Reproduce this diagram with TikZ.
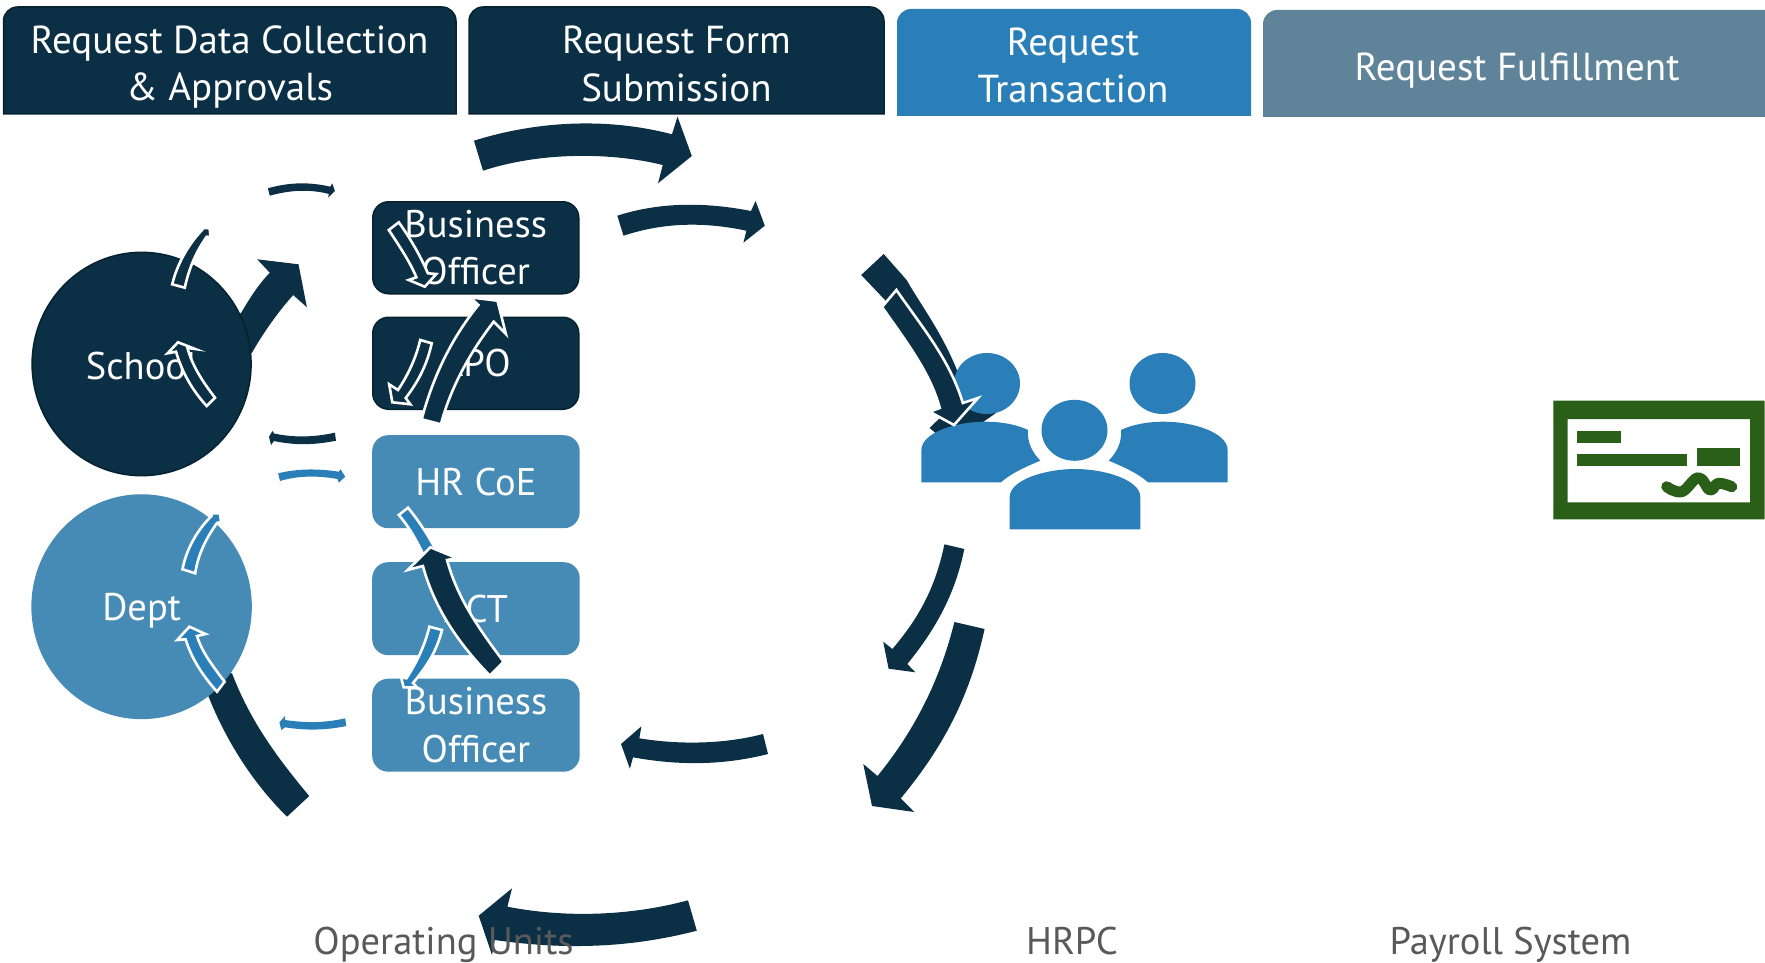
\documentclass[tikz,border=0pt]{standalone}
\usepackage{fontspec}
\setmainfont{PT Sans}
\definecolor{navy}{HTML}{0B2F45}
\definecolor{navyedge}{HTML}{06222F}
\definecolor{mainblue}{HTML}{2B7FB8}
\definecolor{softblue}{HTML}{458BB5}
\definecolor{slate}{HTML}{5F8398}
\definecolor{labelgray}{HTML}{595959}
\definecolor{checkgreen}{HTML}{2A5F17}
\tikzset{
  headtext/.style={text=white,align=center,font=\fontsize{39}{47.3}\selectfont,inner sep=0pt},
  boxtext/.style={text=white,align=center,font=\fontsize{38.5}{47.3}\selectfont,inner sep=0pt},
  sidebox/.style={rounded corners=16,minimum width=206,minimum height=92,inner sep=0pt,anchor=north west,align=center,text=white,font=\fontsize{38.5}{47.3}\selectfont},
  darkbox/.style={sidebox,fill=navy,draw=navyedge,line width=1.5},
  lightbox/.style={sidebox,fill=softblue,minimum width=207.5,minimum height=93},
  darkarrow/.style={fill=navy},
  bluearrow/.style={fill=mainblue},
  darkout/.style={fill=navy,draw=white,line width=2.6,line join=miter},
  blueout/.style={fill=mainblue,draw=white,line width=2.6,line join=miter},
  bottomlabel/.style={text=labelgray,font=\fontsize{38.5}{45}\selectfont,inner sep=0pt},
  person/.style={fill=mainblue},
  checkink/.style={fill=checkgreen},
}
\begin{document}
\begin{tikzpicture}[x=1pt,y=-1pt]
\useasboundingbox (0,0) rectangle (1765,963);
% headers
\fill[navy,draw=navyedge,line width=1.5] (3.5,114) [rounded corners=14] -- (3.5,7) -- (456,7) [sharp corners] -- (456,114) -- cycle;
\fill[navy,draw=navyedge,line width=1.5] (469,114) [rounded corners=14] -- (469,7) -- (884,7) [sharp corners] -- (884,114) -- cycle;
\fill[mainblue] (897,116) [rounded corners=14] -- (897,9) -- (1251,9) [sharp corners] -- (1251,116) -- cycle;
\fill[slate] (1263,117) [rounded corners=14] -- (1263,10) -- (1790,10) [sharp corners] -- (1790,117) -- cycle;
\node[headtext] (h1) at (229.6,67) {Request Data Collection\\\& Approvals};
\node[headtext] (h2) at (676.5,64) {Request Form\\Submission};
\node[headtext] (h3) at (1073,65.5) {Request\\Transaction};
\node[headtext] (h4) at (1517,71) {Request Fulfillment};

% arrows under the circles
\path[darkarrow] (309.2,796) .. controls (275,755) and (250,720) .. (232,673.3) -- (200,670) -- (208.6,696.7) .. controls (228,745) and (255,785) .. (287,816.7) -- cycle;
\path[darkarrow] (225,345) -- (251.8,353) .. controls (262,335) and (277,313) .. (293.2,295) -- (306.9,307.3) -- (298.5,264.3) -- (257.2,259.3) -- (269.8,272.7) .. controls (258,285) and (250,298) .. (241,313) -- (215,330) -- cycle;

% circles
\node[circle,draw=navyedge,line width=1.5,fill=navy,minimum width=219,inner sep=0pt,yscale=1.02] (school) at (141.6,364) {};
\node[circle,fill=softblue,minimum width=220.5,inner sep=0pt,yscale=1.02] (dept) at (141.6,606.7) {};
\node[boxtext] (schooltext) at (141.6,366) {School};
\node[boxtext] (depttext) at (141.6,610.5) {Dept};

% side boxes
\node[darkbox] (bo1) at (372,201) {Business\\Officer};
\node[darkbox] (po) at (372,316.5) {APO};
\node[lightbox] (hr) at (372,435) {HR CoE};
\node[lightbox] (act) at (372,562) {ACT};
\node[lightbox] (bo2) at (372,678.5) {Business\\Officer};

% top arrows
\path[darkarrow] (474,140.7) .. controls (540,120) and (610,118) .. (672,134.3) -- (677.5,116.7) -- (691.8,156) -- (658,183.3) -- (662.8,165) .. controls (610,152) and (540,152) .. (483,170.7) -- cycle;
\path[darkarrow] (617.3,215.7) .. controls (660,202) and (705,202) .. (751,211) -- (755.6,201) -- (764.8,225.7) -- (743.4,242.7) -- (746.4,230.7) .. controls (705,222) and (665,222) .. (623.5,235.7) -- cycle;

% thin arrows
\path[darkarrow] (267.9,188.3) .. controls (290,182) and (310,182) .. (330.3,186.7) -- (332.2,183.3) -- (334.9,191) -- (328,197.7) -- (329,194) .. controls (310,189) and (290,190) .. (269.8,195.7) -- cycle;
\path[darkarrow] (334.9,432.7) .. controls (315,437) and (295,438) .. (274,433.5) -- (272.5,431) -- (269,436.7) -- (271,445) -- (274,441) .. controls (295,445.5) and (315,445) .. (336,440.7) -- cycle;
\path[bluearrow] (278.2,473.3) .. controls (298,468.5) and (318,468.5) .. (338.7,471.7) -- (340.6,469.3) -- (345.2,476.7) -- (338.7,482.7) -- (337.5,479) .. controls (318,475.5) and (298,475.5) .. (280,481) -- cycle;
\path[bluearrow] (345.2,718.3) .. controls (325,723) and (305,723) .. (285,720) -- (285,716) -- (279.4,722.3) -- (281.3,730) -- (285,727.3) .. controls (305,730.5) and (325,730.5) .. (346.3,726) -- cycle;

% HRPC incoming, below the people
\path[darkarrow] (883.7,254) -- (906.6,280) .. controls (925,312) and (948,340) .. (965,392) -- (996,413) -- (950,445) -- (929.6,428) -- (948,410) .. controls (940,375) and (915,340) .. (885,300) -- (861.2,275) -- cycle;

% people
\fill[person] (987,383.5) ellipse [x radius=33,y radius=30.5];
\fill[person] (1162.5,383.5) ellipse [x radius=33,y radius=30.5];
\fill[person] (1074.5,430.3) ellipse [x radius=33,y radius=30.5];
\path[person] (1009.7,529.3) -- (1009.7,497) .. controls (1009.7,480) and (1045,469) .. (1075,469) .. controls (1105,469) and (1140.3,480) .. (1140.3,497) -- (1140.3,529.3) -- cycle;
\path[person] (921.4,482.3) -- (921.4,450) .. controls (921.4,433) and (955,421.7) .. (985,421.7) .. controls (1005,421.7) and (1020,426) .. (1028,430) .. controls (1027,442) and (1032,452) .. (1040.3,460.7) .. controls (1025,467) and (1010,474) .. (1001,482.3) -- cycle;
\path[person] (1227.6,482.3) -- (1227.6,450) .. controls (1227.6,433) and (1194,421.7) .. (1164,421.7) .. controls (1144,421.7) and (1129,426) .. (1121,430) .. controls (1122,442) and (1117,452) .. (1108.7,460.7) .. controls (1124,467) and (1139,474) .. (1148,482.3) -- cycle;

\path[darkout] (896.4,290) .. controls (922,327) and (950,360) .. (962.8,403) -- (978,398) -- (954,425) -- (929.6,411.7) -- (939.8,408) .. controls (930,372) and (905,340) .. (882,307) -- cycle;

% right-side arrows
\path[darkarrow] (944.4,544.3) .. controls (935,590) and (917,620) .. (892.4,649) -- (883.2,641.7) -- (888.6,668.7) -- (915.4,672.3) -- (907.3,664) .. controls (935,630) and (955,595) .. (964.3,549) -- cycle;
\path[darkarrow] (954.4,622) .. controls (940,680) and (915,730) .. (877.5,776) -- (863.3,764) -- (872,806) -- (914.2,812) -- (900.8,798.3) .. controls (945,745) and (970,695) .. (984.6,629) -- cycle;
\path[darkarrow] (763,734) .. controls (725,744) and (680,745) .. (639.4,738.3) -- (641.4,726.3) -- (621,744) -- (629.9,768.7) -- (633,757.3) .. controls (680,766) and (725,765) .. (768,754) -- cycle;
\path[darkarrow] (688,900.3) .. controls (630,916) and (565,918) .. (507.4,906.7) -- (512,888.3) -- (478.7,915.7) -- (492,955) -- (494.8,940) .. controls (565,950) and (630,948) .. (696.8,930.7) -- cycle;

% outlined arrows
\path[darkout] (172.2,284.3) .. controls (177,265) and (187,246) .. (202,230) -- (199.8,227.7) -- (209.7,228.3) -- (210.5,237.3) -- (206.7,236.7) .. controls (196,252) and (189,268) .. (184.8,287.7) -- cycle;
\path[darkout] (215,397.7) .. controls (202,381) and (192,365) .. (187.5,348) -- (195.2,349) -- (178,342.3) -- (167.6,353.3) -- (176,351.7) .. controls (182,372) and (192,390) .. (206.7,406) -- cycle;
\path[darkout] (388.8,230) .. controls (400,247) and (410,262) .. (416.4,277.3) -- (408.7,280) -- (424.8,286.7) -- (436.3,274) -- (427.9,273.3) .. controls (420,255) and (410,238) .. (398.8,222.3) -- cycle;
\path[darkout] (420.2,340) .. controls (416,358) and (408,375) .. (398,390) -- (389.2,384.3) -- (392.3,402.3) -- (410.3,404.3) -- (405.7,398) .. controls (418,382) and (427,365) .. (431.7,343.3) -- cycle;
\path[darkout] (421.7,419.3) .. controls (432,380) and (450,340) .. (478.4,305) -- (470,297.3) -- (497.5,300.7) -- (505.9,334) -- (493.7,321.7) .. controls (468,355) and (450,390) .. (440.9,424.3) -- cycle;
\path[blueout] (398.8,515) .. controls (412,530) and (423,552) .. (432,575) -- (445,570) .. controls (435,545) and (422,525) .. (408,507.7) -- cycle;
\path[darkout] (503.6,661.7) .. controls (480,630) and (458,600) .. (447,560) -- (457.3,558.3) -- (430.5,547.3) -- (407.6,570) -- (422.9,566) .. controls (435,610) and (460,645) .. (489.9,675.7) -- cycle;
\path[blueout] (429.4,626.7) .. controls (425,645) and (417,662) .. (406.4,678.3) -- (401,677.3) -- (403.7,687.3) -- (417,687.3) -- (413,683) .. controls (428,665) and (437,650) .. (442,630) -- cycle;
\path[blueout] (182.5,569.3) .. controls (186,550) and (197,530) .. (211.6,516) -- (210.5,513.3) -- (220,513.3) -- (221,522) -- (217,523) .. controls (205,540) and (198,555) .. (195.2,573.3) -- cycle;
\path[blueout] (224.6,681.7) .. controls (212,665) and (202,652) .. (197,636) -- (205.5,634) -- (189.4,626.7) -- (177.2,640) -- (185.6,639.3) .. controls (192,660) and (204,677) .. (217,691.7) -- cycle;

% check
\fill[checkink,even odd rule] (1553.3,400.7) rectangle (1764.5,519.3) (1567.7,419) rectangle (1750,502.3);
\fill[checkink] (1577.3,430.7) rectangle (1620.7,442.7);
\fill[checkink] (1577.3,454.3) rectangle (1687.3,466.3);
\fill[checkink] (1697,448.3) rectangle (1740,466.3);
\draw[checkgreen,line width=11,line cap=round,line join=round] plot[smooth,tension=0.7] coordinates {(1666.7,486.7) (1681.7,491.7) (1698.3,477.7) (1710,490) (1718.3,483.3) (1731.7,486.7)};

% bottom labels
\node[bottomlabel] (ou) at (443.5,944.5) {Operating Units};
\node[bottomlabel] (hrpc) at (1072,941) {HRPC};
\node[bottomlabel] (pay) at (1510.5,944.5) {Payroll System};
\end{tikzpicture}
\end{document}
